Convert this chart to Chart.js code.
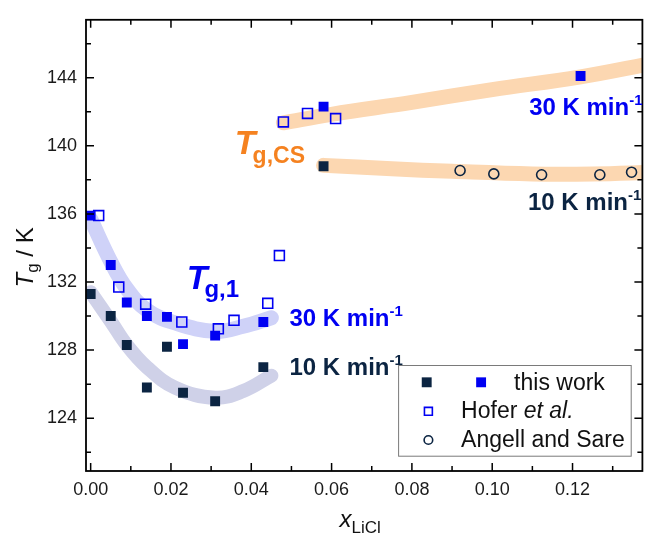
<!DOCTYPE html>
<html>
<head>
<meta charset="utf-8">
<script src="https://cdn.jsdelivr.net/npm/chart.js@4.4.0/dist/chart.umd.min.js"></script>
<style>
  html, body { margin: 0; padding: 0; background: #fff; }
  #wrap { width: 651px; height: 540px; }
</style>
</head>
<body>
<div id="wrap"><canvas id="tg-chart" width="651" height="540"></canvas></div>
<script>
// glass transition temperatures of LiCl solutions
var xWork10 = [0.000, 0.005, 0.009, 0.014, 0.019, 0.023, 0.031, 0.043, 0.058];
var tWork10 = [131.3, 130.0, 128.3, 125.8, 128.2, 125.5, 125.0, 127.0, 138.8];
var xWork30 = [0.000, 0.005, 0.009, 0.014, 0.019, 0.023, 0.031, 0.043, 0.058, 0.122];
var tWork30 = [135.9, 133.0, 130.8, 130.0, 129.95, 128.35, 128.85, 129.65, 142.3, 144.1];
var xHofer = [0.002, 0.007, 0.0137, 0.0227, 0.0318, 0.0357, 0.0441, 0.047, 0.048, 0.054, 0.061];
var tHofer = [135.9, 131.7, 130.7, 129.65, 129.25, 129.75, 130.75, 133.55, 141.4, 141.9, 141.6];
var xAngell = [0.092, 0.1004, 0.1123, 0.1268, 0.1347];
var tAngell = [138.55, 138.35, 138.3, 138.3, 138.45];

// guide bands drawn under the points
var xBand1Fast = [0.000, 0.005, 0.009, 0.014, 0.021, 0.031, 0.038, 0.045];
var tBand1Fast = [135.7, 133.2, 131.6, 130.35, 129.6, 129.1, 129.4, 129.9];
var xBand1Slow = [0.000, 0.005, 0.009, 0.014, 0.021, 0.031, 0.038, 0.045];
var tBand1Slow = [131.4, 129.7, 128.3, 127.0, 125.8, 125.2, 125.6, 126.5];
var xBandCsFast = [0.048, 0.060, 0.080, 0.100, 0.122, 0.140];
var tBandCsFast = [141.35, 141.85, 142.55, 143.3, 144.05, 144.85];
var xBandCsSlow = [0.058, 0.075, 0.090, 0.110, 0.125, 0.140];
var tBandCsSlow = [138.85, 138.65, 138.5, 138.35, 138.35, 138.45];

var xTicks = [0.00, 0.02, 0.04, 0.06, 0.08, 0.10, 0.12];
var xMinor = [0.01, 0.03, 0.05, 0.07, 0.09, 0.11, 0.13];
var yTicks = [124, 128, 132, 136, 140, 144];
var yMinor = [122, 126, 130, 134, 138, 142, 146];

var NAVY = '#0b2442';
var BLUE = '#0000f2';
var ORANGE = '#f58220';
var FONT = '"Liberation Sans", Arial, sans-serif';

function pts(xs, ys) {
  return xs.map(function (x, i) { return { x: x, y: ys[i] }; });
}

function band(xs, ys, color, width) {
  return {
    data: pts(xs, ys), showLine: true, borderColor: color, borderWidth: width,
    borderCapStyle: 'round', borderJoinStyle: 'round', tension: 0.4,
    pointRadius: 0, pointHoverRadius: 0, order: 10
  };
}

function marks(xs, ys, style, radius, fill, stroke, bw) {
  return {
    data: pts(xs, ys), showLine: false, pointStyle: style, pointRadius: radius,
    pointHoverRadius: radius, backgroundColor: fill, borderColor: stroke,
    pointBorderWidth: bw, order: 1
  };
}

// draws a run of text pieces: [text, font, color, dy, dx]
function drawParts(ctx, x, y, parts, align) {
  var w = 0;
  parts.forEach(function (p) { ctx.font = p[1]; w += ctx.measureText(p[0]).width + (p[4] || 0); });
  var cx = align === 'center' ? x - w / 2 : x;
  parts.forEach(function (p) {
    ctx.font = p[1];
    ctx.fillStyle = p[2];
    cx += p[4] || 0;
    ctx.fillText(p[0], cx, y + (p[3] || 0));
    cx += ctx.measureText(p[0]).width;
  });
}

var notes = [
  { x: 0.0359, t: 139.49, parts: [['T', 'italic bold 34px ' + FONT, ORANGE], ['g,CS', 'bold 23px ' + FONT, ORANGE, 8.6, -3]] },
  { x: 0.0239, t: 131.61, parts: [['T', 'italic bold 34px ' + FONT, BLUE], ['g,1', 'bold 24px ' + FONT, BLUE, 8, -3]] },
  { x: 0.0495, t: 129.44, parts: [['30 K min', 'bold 24px ' + FONT, BLUE], ['-1', 'bold 15px ' + FONT, BLUE, -10]] },
  { x: 0.0495, t: 126.53, parts: [['10 K min', 'bold 24px ' + FONT, NAVY], ['-1', 'bold 15px ' + FONT, NAVY, -10]] },
  { x: 0.1092, t: 141.80, parts: [['30 K min', 'bold 24px ' + FONT, BLUE], ['-1', 'bold 15px ' + FONT, BLUE, -10]] },
  { x: 0.1089, t: 136.23, parts: [['10 K min', 'bold 24px ' + FONT, NAVY], ['-1', 'bold 15px ' + FONT, NAVY, -10]] }
];

var framePlugin = {
  id: 'frame',
  afterDatasetsDraw: function (chart) {
    var ctx = chart.ctx, a = chart.chartArea;
    var xs = chart.scales.x, ys = chart.scales.y;
    ctx.save();
    ctx.strokeStyle = '#000';
    ctx.lineWidth = 1.8;
    ctx.strokeRect(a.left, a.top, a.right - a.left, a.bottom - a.top);
    ctx.lineWidth = 1.5;
    ctx.beginPath();
    function xTick(v, len) {
      var px = xs.getPixelForValue(v);
      ctx.moveTo(px, a.bottom); ctx.lineTo(px, a.bottom - len);
      ctx.moveTo(px, a.top); ctx.lineTo(px, a.top + len);
    }
    function yTick(v, len) {
      var py = ys.getPixelForValue(v);
      ctx.moveTo(a.left, py); ctx.lineTo(a.left + len, py);
      ctx.moveTo(a.right, py); ctx.lineTo(a.right - len, py);
    }
    xTicks.forEach(function (v) { xTick(v, 8); });
    xMinor.forEach(function (v) { xTick(v, 5); });
    yTicks.forEach(function (v) { yTick(v, 8); });
    yMinor.forEach(function (v) { yTick(v, 5); });
    ctx.stroke();

    // annotations
    ctx.textAlign = 'left';
    ctx.textBaseline = 'alphabetic';
    notes.forEach(function (n) {
      drawParts(ctx, xs.getPixelForValue(n.x), ys.getPixelForValue(n.t), n.parts);
    });

    // axis titles
    drawParts(ctx, (a.left + a.right) / 2 - 4, 527, [
      ['x', 'italic 24px ' + FONT, '#111'], ['LiCl', '17px ' + FONT, '#111', 6]
    ], 'center');
    ctx.translate(33, (a.top + a.bottom) / 2 + 12);
    ctx.rotate(-Math.PI / 2);
    drawParts(ctx, 0, 0, [
      ['T', 'italic 24px ' + FONT, '#111'], ['g', '17px ' + FONT, '#111', 5], [' / K', '24px ' + FONT, '#111']
    ], 'center');
    ctx.restore();
  },
  afterDraw: function (chart) {
    // legend box
    var ctx = chart.ctx, a = chart.chartArea;
    var r = a.right - 10.7, b = a.bottom - 14.3, l = r - 233.6, t = b - 91.7;
    ctx.save();
    ctx.fillStyle = '#fff';
    ctx.fillRect(l, t, r - l, b - t);
    ctx.strokeStyle = '#7a7a7a';
    ctx.lineWidth = 1;
    ctx.strokeRect(l + 0.5, t + 0.5, r - l - 1, b - t - 1);
    var H = Chart.helpers;
    ctx.fillStyle = NAVY; ctx.strokeStyle = NAVY;
    H.drawPoint(ctx, { pointStyle: 'rect', radius: 7, borderWidth: 0 }, l + 28.6, t + 17.3);
    ctx.fillStyle = BLUE; ctx.strokeStyle = BLUE;
    H.drawPoint(ctx, { pointStyle: 'rect', radius: 7, borderWidth: 0 }, l + 83, t + 17.3);
    ctx.fillStyle = 'rgba(0,0,0,0)'; ctx.strokeStyle = BLUE; ctx.lineWidth = 1.6;
    H.drawPoint(ctx, { pointStyle: 'rect', radius: 5.6, borderWidth: 1.6 }, l + 30.3, t + 46.3);
    ctx.strokeStyle = NAVY;
    H.drawPoint(ctx, { pointStyle: 'circle', radius: 4.3, borderWidth: 1.6 }, l + 30.3, t + 75);
    ctx.textAlign = 'left';
    ctx.textBaseline = 'alphabetic';
    drawParts(ctx, l + 116, t + 25, [['this work', '23px ' + FONT, '#111']]);
    drawParts(ctx, l + 63, t + 53.3, [['Hofer ', '23px ' + FONT, '#111'], ['et al.', 'italic 23px ' + FONT, '#111']]);
    drawParts(ctx, l + 63, t + 81.7, [['Angell and Sare', '23px ' + FONT, '#111']]);
    ctx.restore();
  }
};

new Chart(document.getElementById('tg-chart'), {
  type: 'scatter',
  data: {
    datasets: [
      band(xBand1Fast, tBand1Fast, '#cfd2f8', 15),
      band(xBand1Slow, tBand1Slow, '#cfd1e8', 14),
      band(xBandCsFast, tBandCsFast, '#fcd7b1', 15),
      band(xBandCsSlow, tBandCsSlow, '#fcd7b1', 15),
      marks(xHofer, tHofer, 'rect', 7, 'rgba(0,0,0,0)', BLUE, 1.6),
      marks(xAngell, tAngell, 'circle', 5, 'rgba(0,0,0,0)', NAVY, 1.6),
      marks(xWork10, tWork10, 'rect', 7, NAVY, NAVY, 0),
      marks(xWork30, tWork30, 'rect', 7, BLUE, BLUE, 0)
    ]
  },
  options: {
    responsive: false,
    animation: false,
    events: [],
    layout: { padding: { left: 0, right: 1, top: 16, bottom: 0 } },
    plugins: { legend: { display: false }, tooltip: { enabled: false } },
    scales: {
      x: {
        type: 'linear', min: -0.00116, max: 0.1374,
        grid: { display: false, drawTicks: false },
        border: { display: false },
        afterFit: function (s) { s.height = 69; },
        afterBuildTicks: function (s) { s.ticks = xTicks.map(function (v) { return { value: v }; }); },
        ticks: {
          padding: 8, color: '#1a1a1a', font: { family: FONT, size: 18 },
          callback: function (v) { return Number(v).toFixed(2); }
        }
      },
      y: {
        type: 'linear', min: 120.9, max: 147.4,
        grid: { display: false, drawTicks: false },
        border: { display: false },
        afterFit: function (s) { s.width = 86; },
        afterBuildTicks: function (s) { s.ticks = yTicks.map(function (v) { return { value: v }; }); },
        ticks: { padding: 9, color: '#1a1a1a', font: { family: FONT, size: 18 } }
      }
    }
  },
  plugins: [framePlugin]
});
</script>
</body>
</html>
